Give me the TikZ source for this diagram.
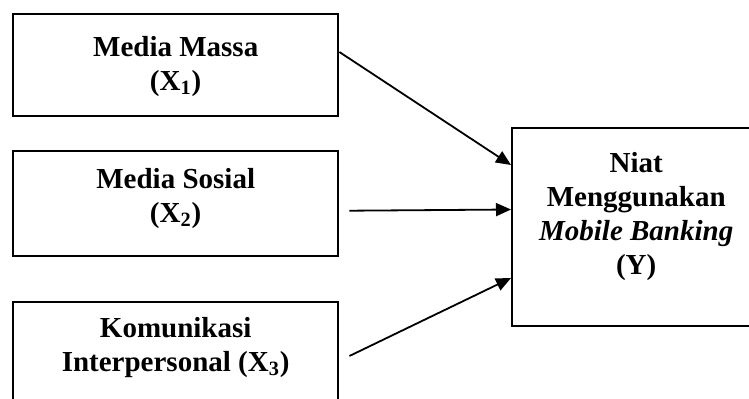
\documentclass[tikz,border=0pt]{standalone}
\usepackage{fontspec}
\setmainfont{Liberation Serif}
\usetikzlibrary{arrows.meta,positioning,calc}

\begin{document}
\begin{tikzpicture}[x=0.5pt,y=-0.5pt,
    box/.style={draw, line width=1.2pt, inner sep=0pt, anchor=north west,
        minimum width=162.5pt},
    boxtext/.style={align=center, inner sep=0pt,
        font=\fontsize{14.5}{17}\selectfont\bfseries},
    arr/.style={-{Triangle[length=7.5pt,width=6.5pt]}, line width=0.9pt}]

    % page size
    \useasboundingbox (0,0) rectangle (749,398);

    % independent variables
    \node[box, minimum height=51pt] (massa) at (12,13) {};
    \node[box, minimum height=52.5pt] (sosial) at (12,150) {};
    \node[box, minimum height=53pt] (komunikasi) at (12,301) {};
    % dependent variable
    \node[box, minimum width=124pt, minimum height=99pt] (niat) at (511,127) {};

    % box texts
    \node[boxtext, below=11.5pt of massa.north] (massa-t)
        {Media Massa\\(X\textsubscript{1})};
    \node[boxtext, below=9pt of sosial.north] (sosial-t)
        {Media Sosial\\(X\textsubscript{2})};
    \node[boxtext, below=8pt of komunikasi.north] (komunikasi-t)
        {Komunikasi\\Interpersonal (X\textsubscript{3})};
    \node[boxtext, below=12.5pt of niat.north] (niat-t)
        {Niat\\Menggunakan\\\textit{Mobile Banking}\\(Y)};

    % paths
    \draw[arr] ($(massa.north east)+(0,39)$) -- ($(niat.north west)+(0,38)$);
    \draw[arr] ($(sosial.east)+(10,7)$) -- ($(niat.north west)+(0,82.5)$);
    \draw[arr] ($(komunikasi.north east)+(10,55)$) -- ($(niat.north west)+(0,151)$);

\end{tikzpicture}
\end{document}
